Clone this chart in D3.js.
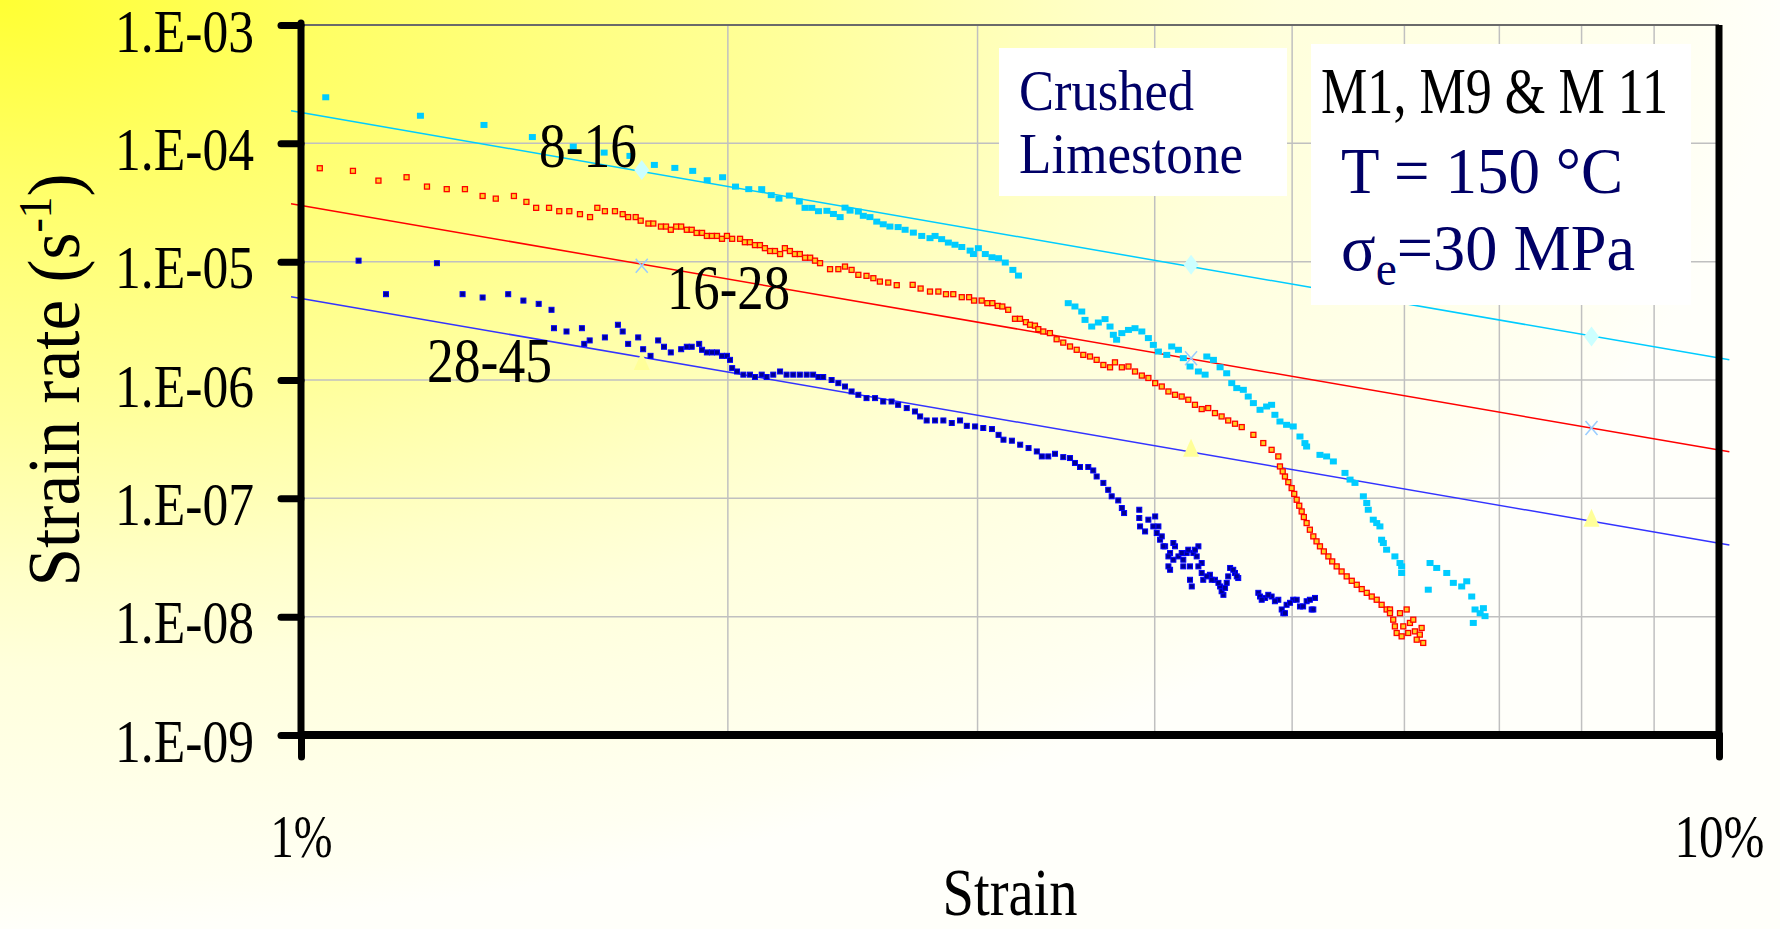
<!DOCTYPE html>
<html>
<head>
<meta charset="utf-8">
<script src="https://cdn.jsdelivr.net/npm/d3@7"></script>
<style>
  html, body { margin: 0; padding: 0; background: #fffffa; }
  svg { display: block; }
  text { font-family: "Liberation Serif", "Times New Roman", serif; }
</style>
</head>
<body>
<div id="chart"></div>
<script>
// strain in %, strain rate in 1/s

// 8-16 series (cyan)
let cyanStrain = [1.041,1.214,1.346,1.456,1.556,1.636,1.706,1.775,1.835,1.889,
  1.934,1.983,2.025,2.069,2.113,2.146,2.173,2.210,2.246,2.267,
  2.292,2.317,2.349,2.374,2.400,2.419,2.439,2.472,2.492,2.519,
  2.547,2.574,2.602,2.637,2.667,2.703,2.740,2.777,2.800,2.830,
  2.861,2.892,2.924,2.964,2.980,3.004,3.038,3.071,3.104,3.138,
  3.177,3.206,
  3.476,3.514,3.553,3.572,3.611,3.650,3.690,3.720,3.740,3.760,
  3.792,3.833,3.874,3.917,3.959,3.991,4.024,4.079,4.112,4.157,
  4.190,4.236,4.294,4.341,4.353,4.400,4.448,4.496,4.533,4.570,
  4.619,4.656,4.695,4.746,4.797,4.836,4.862,4.902,4.955,5.009,
  5.119,5.231,5.346,5.448,5.537,5.613,5.658,5.704,5.766,5.782,
  5.829,5.908,5.957,5.973,
  5.064,5.105,5.288,5.493,5.644,5.736,5.798,5.973,
  6.237,6.255,6.323,6.427,6.496,6.585,6.639,6.693,6.729,6.785,6.710,6.821,6.839];
let cyanRate = [2.45e-4,1.71e-4,1.43e-4,1.13e-4,9.38e-5,8.35e-5,7.83e-5,6.57e-5,6.20e-5,5.85e-5,
  4.88e-5,5.17e-5,4.31e-5,4.10e-5,4.10e-5,3.65e-5,3.41e-5,3.62e-5,3.22e-5,2.85e-5,
  2.85e-5,2.67e-5,2.69e-5,2.53e-5,2.38e-5,2.86e-5,2.70e-5,2.65e-5,2.44e-5,2.38e-5,
  2.18e-5,2.07e-5,1.98e-5,1.96e-5,1.86e-5,1.76e-5,1.65e-5,1.58e-5,1.65e-5,1.55e-5,
  1.45e-5,1.39e-5,1.33e-5,1.24e-5,1.16e-5,1.30e-5,1.16e-5,1.09e-5,1.07e-5,9.83e-6,
  8.52e-6,7.63e-6,
  4.46e-6,4.18e-6,3.79e-6,3.22e-6,2.83e-6,3.06e-6,3.27e-6,2.83e-6,2.41e-6,2.19e-6,
  2.49e-6,2.65e-6,2.74e-6,2.57e-6,2.26e-6,1.98e-6,1.74e-6,1.63e-6,1.92e-6,1.80e-6,
  1.53e-6,1.30e-6,1.18e-6,1.11e-6,1.58e-6,1.48e-6,1.28e-6,1.14e-6,9.41e-7,8.54e-7,
  8.26e-7,7.25e-7,6.38e-7,5.60e-7,5.97e-7,6.17e-7,5.08e-7,4.46e-7,4.18e-7,4.05e-7,
  2.74e-7,2.33e-7,2.05e-7,1.64e-7,1.35e-7,1.04e-7,8.01e-8,6.60e-8,5.79e-8,4.47e-8,
  3.68e-8,3.23e-8,2.84e-8,2.34e-8,
  3.33e-7,2.93e-7,2.26e-7,1.44e-7,9.13e-8,6.18e-8,4.19e-8,2.66e-8,
  1.69e-8,2.84e-8,2.58e-8,2.34e-8,1.93e-8,1.80e-8,1.99e-8,1.48e-8,1.15e-8,1.07e-8,8.85e-9,1.18e-8,1.01e-8];

// 16-28 series (red)
let redStrain = [1.031,1.088,1.134,1.187,1.227,1.267,1.305,1.343,1.372,1.413,
  1.442,1.465,1.496,1.521,1.546,1.573,1.599,1.618,1.638,1.665,
  1.686,1.701,1.722,1.736,1.758,1.772,1.794,1.809,1.823,1.839,
  1.854,1.871,1.886,1.901,1.918,1.933,1.949,1.965,1.981,1.997,
  2.014,2.040,2.056,2.073,2.090,2.107,2.124,2.142,2.159,2.177,
  2.194,2.212,2.230,2.248,2.267,2.286,2.304,2.323,2.361,2.393,
  2.419,2.445,2.472,2.505,2.533,2.560,2.595,2.631,2.700,2.735,
  2.777,2.815,2.850,2.884,2.924,2.959,2.983,3.020,3.048,3.073,
  3.100,3.123,3.153,3.188,3.214,3.245,3.267,3.293,3.311,3.338,
  3.374,3.411,3.448,3.486,3.524,3.562,3.601,3.640,3.680,3.720,
  3.750,3.792,3.833,3.874,3.917,3.959,4.003,4.046,4.090,4.134,
  4.179,4.224,4.270,4.317,4.363,4.411,4.459,4.507,4.557,4.607,
  4.695,4.771,4.836,4.889,4.902,4.942,4.996,5.037,5.078,5.119,
  5.175,5.231,5.303,5.375,5.463,5.553,5.644,5.736,5.829,5.892,
  5.957,5.989,6.054,6.103,6.152,6.186,5.861,5.925,6.022,6.087,
  5.973,
  4.924,4.969,5.017,5.058,5.096,5.146,5.202,5.264,5.336,5.418,
  5.508,5.598,5.690,5.782,5.861,5.908,6.037,6.121,6.170];
let redRate = [6.16e-5,5.85e-5,4.84e-5,5.17e-5,4.31e-5,4.10e-5,4.10e-5,3.59e-5,3.41e-5,3.59e-5,
  3.20e-5,2.85e-5,2.85e-5,2.67e-5,2.67e-5,2.52e-5,2.38e-5,2.85e-5,2.67e-5,2.67e-5,
  2.52e-5,2.38e-5,2.38e-5,2.22e-5,2.10e-5,2.10e-5,1.98e-5,1.98e-5,1.86e-5,1.98e-5,
  1.98e-5,1.86e-5,1.86e-5,1.75e-5,1.75e-5,1.65e-5,1.65e-5,1.65e-5,1.56e-5,1.65e-5,
  1.56e-5,1.56e-5,1.46e-5,1.46e-5,1.38e-5,1.38e-5,1.30e-5,1.23e-5,1.23e-5,1.16e-5,
  1.30e-5,1.23e-5,1.16e-5,1.16e-5,1.08e-5,1.08e-5,1.02e-5,9.71e-6,8.64e-6,8.64e-6,
  9.09e-6,8.52e-6,7.74e-6,7.59e-6,7.25e-6,6.79e-6,6.66e-6,6.33e-6,6.37e-6,5.93e-6,
  5.59e-6,5.59e-6,5.31e-6,5.31e-6,5.01e-6,5.01e-6,4.69e-6,4.69e-6,4.46e-6,4.46e-6,
  4.23e-6,4.18e-6,3.92e-6,3.29e-6,3.29e-6,3.08e-6,2.93e-6,2.88e-6,2.69e-6,2.57e-6,
  2.49e-6,2.21e-6,2.07e-6,1.92e-6,1.80e-6,1.63e-6,1.58e-6,1.48e-6,1.34e-6,1.28e-6,
  1.41e-6,1.28e-6,1.30e-6,1.18e-6,1.09e-6,1.04e-6,9.41e-7,8.81e-7,8.00e-7,7.50e-7,
  7.25e-7,6.81e-7,6.17e-7,5.68e-7,5.79e-7,5.25e-7,4.92e-7,4.55e-7,4.27e-7,4.00e-7,
  3.44e-7,2.93e-7,2.57e-7,2.26e-7,1.86e-7,1.53e-7,1.22e-7,9.73e-8,7.75e-8,6.18e-8,
  4.77e-8,3.93e-8,3.23e-8,2.66e-8,2.19e-8,1.86e-8,1.59e-8,1.39e-8,1.15e-8,9.43e-9,
  1.07e-8,8.28e-9,8.85e-9,7.51e-9,7.05e-9,6.00e-9,1.15e-8,7.28e-9,1.15e-8,9.43e-9,
  6.82e-9,
  1.69e-7,1.37e-7,1.09e-7,8.66e-8,6.95e-8,5.43e-8,4.33e-8,3.56e-8,2.93e-8,2.41e-8,
  2.01e-8,1.71e-8,1.48e-8,1.26e-8,1.07e-8,8.28e-9,7.28e-9,6.39e-9,8.03e-9];

// 28-45 series (blue)
let blueStrain = [1.000,1.098,1.148,1.247,1.300,1.343,1.400,1.435,1.471,1.502,
  1.508,1.539,1.578,1.584,1.598,1.638,1.673,1.686,1.701,1.729,
  1.743,1.764,1.786,1.803,1.823,1.854,1.871,1.886,1.909,1.918,
  1.933,1.949,1.965,1.981,1.997,2.007,2.014,2.030,2.051,2.073,
  2.090,2.113,2.130,2.153,2.177,2.200,2.224,2.248,2.273,2.297,
  2.317,2.335,2.367,2.393,2.419,2.445,2.472,2.505,2.540,2.574,
  2.609,2.637,2.674,2.710,2.733,2.762,2.800,2.838,2.877,2.916,
  2.948,2.988,3.028,3.071,3.104,3.129,3.172,3.215,3.259,3.303,
  3.330,3.365,3.402,3.448,3.486,3.514,3.543,3.591,3.620,3.640,
  3.680,3.709,3.730,3.770,3.792,3.806,3.901,3.906,3.938,3.959,
  4.003,4.024,4.035,4.068,4.101,4.101,4.134,4.157,4.190,4.213,
  4.236,4.248,4.259,4.294,4.317,4.328,4.375,4.411,4.448,4.472,
  4.496,4.521,4.557,4.581,4.733,4.785,4.836,4.889,4.929,4.955,
  5.009,5.064,5.119,5.161,5.189,
  3.901,3.991,4.013,4.046,4.057,4.090,4.090,4.123,4.123,4.179,
  4.190,4.224,4.236,4.270,4.282,4.294,4.317,4.353,4.388,4.436,
  4.459,4.484,4.507,4.544,4.570,
  4.746,4.759,4.810,4.862,4.916,4.942,4.983,5.037,5.090,5.146,5.175];
let blueRate = [1.16e-5,1.02e-5,5.31e-6,9.71e-6,5.31e-6,4.98e-6,5.31e-6,4.69e-6,4.40e-6,3.92e-6,
  2.74e-6,2.57e-6,2.74e-6,2.02e-6,2.16e-6,2.29e-6,2.93e-6,2.57e-6,2.02e-6,2.29e-6,
  1.82e-6,1.60e-6,2.16e-6,1.91e-6,1.71e-6,1.82e-6,1.91e-6,1.91e-6,2.02e-6,1.80e-6,
  1.71e-6,1.71e-6,1.71e-6,1.60e-6,1.60e-6,1.48e-6,1.26e-6,1.18e-6,1.11e-6,1.11e-6,
  1.06e-6,1.11e-6,1.06e-6,1.11e-6,1.18e-6,1.11e-6,1.11e-6,1.11e-6,1.11e-6,1.11e-6,
  1.06e-6,1.06e-6,1.00e-6,9.41e-7,8.81e-7,8.00e-7,7.50e-7,7.03e-7,7.03e-7,6.58e-7,
  6.58e-7,6.17e-7,5.79e-7,5.42e-7,4.92e-7,4.55e-7,4.55e-7,4.55e-7,4.33e-7,4.55e-7,
  4.10e-7,4.05e-7,3.93e-7,3.85e-7,3.44e-7,3.13e-7,3.07e-7,2.84e-7,2.66e-7,2.49e-7,
  2.26e-7,2.26e-7,2.38e-7,2.23e-7,2.19e-7,1.99e-7,1.84e-7,1.84e-7,1.72e-7,1.53e-7,
  1.35e-7,1.18e-7,1.04e-7,9.60e-8,8.28e-8,7.51e-8,8.01e-8,5.79e-8,5.25e-8,6.60e-8,
  7.03e-8,5.79e-8,4.47e-8,3.93e-8,3.45e-8,2.49e-8,3.93e-8,3.23e-8,2.66e-8,3.45e-8,
  2.05e-8,1.80e-8,3.45e-8,3.93e-8,2.84e-8,2.05e-8,2.26e-8,2.05e-8,1.80e-8,1.53e-8,
  1.93e-8,2.58e-8,2.34e-8,2.12e-8,1.59e-8,1.44e-8,1.48e-8,1.39e-8,1.07e-8,1.26e-8,
  1.39e-8,1.22e-8,1.35e-8,1.15e-8,1.44e-8,
  6.82e-8,5.79e-8,5.09e-8,4.77e-8,3.93e-8,3.23e-8,2.66e-8,4.19e-8,3.03e-8,3.45e-8,
  3.03e-8,3.68e-8,2.66e-8,3.68e-8,3.23e-8,2.66e-8,2.34e-8,2.19e-8,2.05e-8,1.93e-8,
  1.64e-8,1.75e-8,2.19e-8,2.49e-8,2.19e-8,
  1.48e-8,1.39e-8,1.53e-8,1.35e-8,1.15e-8,1.07e-8,1.31e-8,1.39e-8,1.22e-8,1.39e-8,1.15e-8];

// power-law trend lines (end points) and their marker points
let fitStrain = [0.984, 10.17];
let cyanFit = [1.885e-4, 1.48e-6];
let redFit = [3.09e-5, 2.47e-7];
let blueFit = [5.06e-6, 4.03e-8];
let markStrain = [1.739, 4.243, 8.13];
let cyanMark = [5.96e-5, 9.4e-6, 2.33e-6];
let redMark = [9.22e-6, 1.53e-6, 3.93e-7];
let blueMark = [1.39e-6, 2.57e-7, 6.6e-8];

let yTicks = [1e-3, 1e-4, 1e-5, 1e-6, 1e-7, 1e-8, 1e-9];
let yTickLabels = ["1.E-03", "1.E-04", "1.E-05", "1.E-06", "1.E-07", "1.E-08", "1.E-09"];
let xTicks = [1, 10];
let xTickLabels = ["1%", "10%"];
let xGrid = [2, 3, 4, 5, 6, 7, 8, 9];

let width = 1780, height = 929;
let plotL = 301, plotR = 1719, plotT = 25, plotB = 735;

let svg = d3.select("#chart").append("svg")
    .attr("width", width)
    .attr("height", height);

// background: yellow fading out from the top-left corner
let grad = svg.append("defs").append("radialGradient")
    .attr("id", "bg")
    .attr("cx", 0).attr("cy", 0).attr("fx", 0).attr("fy", 0).attr("r", 1);
[[0, "#ffff33"], [0.19, "#ffff66"], [0.45, "#ffff9c"], [0.62, "#ffffc8"],
 [0.72, "#ffffdc"], [0.95, "#fffff2"], [1, "#fffffa"]].forEach(s => {
    grad.append("stop").attr("offset", s[0]).attr("stop-color", s[1]);
});
svg.append("rect").attr("width", width).attr("height", height).attr("fill", "url(#bg)");

let x = d3.scaleLog().domain([1, 10]).range([plotL, plotR]);
let y = d3.scaleLog().domain([1e-9, 1e-3]).range([plotB, plotT]);

// scale a text element to a given width
function fitWidth(t, w) {
    return w / t.node().getComputedTextLength();
}

function putText(parent, str, px, py, size, w, anchor, color) {
    let t = parent.append("text")
        .attr("font-size", size)
        .attr("fill", color)
        .attr("text-anchor", anchor);
    if (typeof str === "function") str(t); else t.text(str);
    t.attr("transform", `translate(${px},${py}) scale(${fitWidth(t, w)},1)`);
    return t;
}

// grid
let grid = svg.append("g").attr("stroke", "#c0c0c0").attr("stroke-width", 1.5);
grid.selectAll(".vg").data(xGrid).enter().append("line")
    .attr("x1", d => x(d)).attr("x2", d => x(d))
    .attr("y1", plotT).attr("y2", plotB);
grid.selectAll(".hg").data(yTicks.slice(1, -1)).enter().append("line")
    .attr("x1", plotL).attr("x2", plotR)
    .attr("y1", d => y(d)).attr("y2", d => y(d));
svg.append("line")
    .attr("x1", plotL).attr("x2", plotR).attr("y1", plotT).attr("y2", plotT)
    .attr("stroke", "#6a6a6a").attr("stroke-width", 2);

// trend lines
let fitLine = d3.line().x(d => x(d[0])).y(d => y(d[1]));
[[cyanFit, "#00ccff"], [redFit, "#ff0000"], [blueFit, "#3333ff"]].forEach(f => {
    svg.append("path")
        .datum(d3.zip(fitStrain, f[0]))
        .attr("d", fitLine)
        .attr("fill", "none")
        .attr("stroke", f[1])
        .attr("stroke-width", 1.5);
});

// trend line markers
svg.append("g").selectAll("path")
    .data(d3.zip(markStrain, cyanMark)).enter().append("path")
    .attr("transform", d => `translate(${x(d[0])},${y(d[1])})`)
    .attr("d", "M0,-10L7.5,0L0,10L-7.5,0Z")
    .attr("fill", "#ccffff");
svg.append("g").selectAll("path")
    .data(d3.zip(markStrain, redMark)).enter().append("path")
    .attr("transform", d => `translate(${x(d[0])},${y(d[1])})`)
    .attr("d", "M-6,-7L6,7M-6,7L6,-7")
    .attr("stroke", "#99ccff").attr("stroke-width", 1.5);
svg.append("g").selectAll("path")
    .data(d3.zip(markStrain, blueMark)).enter().append("path")
    .attr("transform", d => `translate(${x(d[0])},${y(d[1])})`)
    .attr("d", "M0,-11L8,7L-8,7Z")
    .attr("fill", "#ffff99");

// measured points
function drawSeries(strain, rate, w, h, fill, stroke, sw) {
    svg.append("g").selectAll("rect")
        .data(d3.zip(strain, rate)).enter().append("rect")
        .attr("x", d => x(d[0]) - w / 2)
        .attr("y", d => y(d[1]) - h / 2)
        .attr("width", w).attr("height", h)
        .attr("fill", fill)
        .attr("stroke", stroke)
        .attr("stroke-width", sw);
}
drawSeries(blueStrain, blueRate, 5, 5, "#000090", "#0000ff", 1);
drawSeries(redStrain, redRate, 5, 5, "#ffcc22", "#ff0000", 1.3);
drawSeries(cyanStrain, cyanRate, 7, 6, "#00ccff", "none", 0);

// text boxes
svg.append("rect").attr("x", 999).attr("y", 48).attr("width", 288).attr("height", 148).attr("fill", "white");
svg.append("rect").attr("x", 1311).attr("y", 44).attr("width", 380).attr("height", 261).attr("fill", "white");

putText(svg, "Crushed", 1019, 110, 58, 175, "start", "#000066");
putText(svg, "Limestone", 1019, 173, 58, 224, "start", "#000066");
putText(svg, "M1, M9 & M 11", 1321, 113, 65, 347, "start", "#000000");
putText(svg, "T = 150 °C", 1341, 193, 65, 282, "start", "#000066");
putText(svg, t => {
    t.append("tspan").text("σ");
    t.append("tspan").attr("font-size", 48).attr("dy", 15).text("e");
    t.append("tspan").attr("dy", -15).text("=30 MPa");
}, 1341, 270, 65, 294, "start", "#000066");

// series labels
putText(svg, "8-16", 539, 167, 64, 98, "start", "#000000");
putText(svg, "16-28", 667, 309, 64, 123, "start", "#000000");
putText(svg, "28-45", 427, 382, 64, 125, "start", "#000000");

// axes
let yAxis = svg.append("g")
    .attr("transform", `translate(${plotL},0)`)
    .call(d3.axisLeft(y).tickValues(yTicks).tickSize(20).tickFormat((d, i) => yTickLabels[i]));
yAxis.select(".domain").remove();
yAxis.selectAll(".tick line")
    .attr("stroke", "#000").attr("stroke-width", 7).attr("stroke-linecap", "round");
yAxis.selectAll(".tick text")
    .attr("font-family", null).attr("font-size", 62).attr("fill", "#000")
    .attr("x", 0).attr("dy", null).attr("text-anchor", "end")
    .attr("transform", function() {
        return `translate(-47,26) scale(${fitWidth(d3.select(this), 139)},1)`;
    });

let xAxis = svg.append("g")
    .attr("transform", `translate(0,${plotB})`)
    .call(d3.axisBottom(x).tickValues(xTicks).tickSize(22).tickFormat((d, i) => xTickLabels[i]));
xAxis.select(".domain").remove();
xAxis.selectAll(".tick line")
    .attr("stroke", "#000").attr("stroke-width", 7).attr("stroke-linecap", "round");
xAxis.selectAll(".tick text")
    .attr("font-family", null).attr("font-size", 62).attr("fill", "#000")
    .attr("y", 0).attr("dy", null)
    .attr("transform", function(d, i) {
        return `translate(0,122) scale(${fitWidth(d3.select(this), i === 0 ? 62 : 90)},1)`;
    });

let frame = svg.append("g").attr("stroke", "#000").attr("stroke-linecap", "round");
frame.append("line").attr("x1", plotL).attr("x2", plotL).attr("y1", plotT - 2).attr("y2", plotB)
    .attr("stroke-width", 7);
frame.append("line").attr("x1", plotR).attr("x2", plotR).attr("y1", plotT).attr("y2", plotB)
    .attr("stroke-width", 7).attr("stroke-linecap", "butt");
frame.append("line").attr("x1", plotL).attr("x2", plotR).attr("y1", plotB).attr("y2", plotB)
    .attr("stroke-width", 8);

// axis titles
putText(svg, "Strain", (plotL + plotR) / 2, 915, 68, 135, "middle", "#000000");
let yt = svg.append("text")
    .attr("font-size", 74)
    .attr("text-anchor", "middle")
    .attr("fill", "#000");
yt.append("tspan").text("Strain rate (s");
yt.append("tspan").attr("font-size", 46).attr("dy", -28).text("-1");
yt.append("tspan").attr("dy", 28).text(")");
yt.attr("transform", `translate(79,${(plotT + plotB) / 2}) rotate(-90) scale(${fitWidth(yt, 413)},1)`);
</script>
</body>
</html>
